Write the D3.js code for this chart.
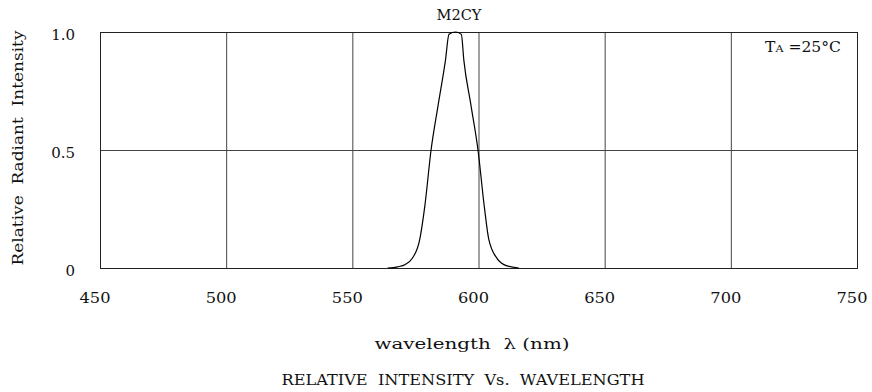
<!DOCTYPE html>
<html>
<head>
<meta charset="utf-8">
<script src="https://cdn.jsdelivr.net/npm/d3@7"></script>
<style>
  body { margin: 0; background: #fff; }
  svg { display: block; }
  text { font-family: "DejaVu Serif", serif; fill: #111; white-space: pre; }
</style>
</head>
<body>
<div id="chart"></div>
<script>
// Spectrum of M2CY
const wavelengths = [564, 568, 571, 573.7, 576.7, 578.7, 581.2, 584, 586.9, 588.3, 590.9, 593.2, 594.2, 597, 599.8, 602.3, 604.1, 607.4, 611, 616];
const intensity   = [0, 0.005, 0.015, 0.04, 0.12, 0.26, 0.50, 0.69, 0.88, 0.99, 1.0, 0.99, 0.88, 0.69, 0.50, 0.26, 0.12, 0.04, 0.01, 0];

const xTicks = [450, 500, 550, 600, 650, 700, 750];
const yTicks = [0, 0.5, 1.0];
const yTickLabels = ['0', '0.5', '1.0'];

const W = 872, H = 392;
const margin = { top: 32, right: 15, bottom: 124, left: 100 };
const width = 857 - margin.left;
const height = 268 - margin.top;

const svg = d3.select('#chart')
  .append('svg')
  .attr('width', W)
  .attr('height', H);

const g = svg.append('g')
  .attr('transform', `translate(${margin.left},${margin.top})`);

const x = d3.scaleLinear().domain([450, 750]).range([0, width]);
const y = d3.scaleLinear().domain([0, 1]).range([height, 0]);

// Grid lines
g.append('g')
  .selectAll('line')
  .data(xTicks.slice(1, -1))
  .enter()
  .append('line')
  .attr('x1', d => x(d) + 0.5)
  .attr('x2', d => x(d) + 0.5)
  .attr('y1', 0)
  .attr('y2', height)
  .attr('stroke', '#444')
  .attr('stroke-width', 1);

g.append('line')
  .attr('x1', 0)
  .attr('x2', width)
  .attr('y1', y(0.5) + 0.5)
  .attr('y2', y(0.5) + 0.5)
  .attr('stroke', '#444')
  .attr('stroke-width', 1);

// Frame
g.append('rect')
  .attr('x', 0.5)
  .attr('y', 0.5)
  .attr('width', width)
  .attr('height', height)
  .attr('fill', 'none')
  .attr('stroke', '#222')
  .attr('stroke-width', 1);

// Curve
const line = d3.line()
  .x((d, i) => x(wavelengths[i]))
  .y(d => y(d))
  .curve(d3.curveMonotoneX);

g.append('path')
  .datum(intensity)
  .attr('fill', 'none')
  .attr('stroke', '#000')
  .attr('stroke-width', 1.2)
  .attr('d', line);

// Tick labels
g.selectAll('.xlabel')
  .data(xTicks)
  .enter()
  .append('text')
  .attr('class', 'xlabel')
  .attr('x', d => x(d) - 5)
  .attr('y', height + 30)
  .attr('dy', '0.35em')
  .attr('text-anchor', 'middle')
  .attr('textLength', 31)
  .attr('lengthAdjust', 'spacingAndGlyphs')
  .style('font-size', '15px')
  .text(d => d);

g.selectAll('.ylabel')
  .data(yTicks)
  .enter()
  .append('text')
  .attr('class', 'ylabel')
  .attr('x', -25)
  .attr('y', d => y(d) + 3)
  .attr('dy', '0.35em')
  .attr('text-anchor', 'end')
  .style('font-size', '15px')
  .text((d, i) => yTickLabels[i]);

// Title
svg.append('text')
  .attr('x', 459)
  .attr('y', 15)
  .attr('dy', '0.35em')
  .attr('text-anchor', 'middle')
  .attr('textLength', 45)
  .attr('lengthAdjust', 'spacingAndGlyphs')
  .style('font-size', '14px')
  .text('M2CY');

// Temperature note
const ta = svg.append('text')
  .attr('x', 765)
  .attr('y', 47)
  .attr('dy', '0.35em')
  .attr('textLength', 76)
  .attr('lengthAdjust', 'spacingAndGlyphs')
  .style('font-size', '14px');
ta.append('tspan').text('T');
ta.append('tspan').style('font-size', '10px').text('A');
ta.append('tspan').text(' =25°C');

// Axis titles
svg.append('text')
  .attr('transform', 'translate(18,148) rotate(-90)')
  .attr('dy', '0.35em')
  .attr('text-anchor', 'middle')
  .attr('textLength', 235)
  .attr('lengthAdjust', 'spacingAndGlyphs')
  .style('font-size', '15px')
  .text('Relative  Radiant  Intensity');

svg.append('text')
  .attr('x', 472)
  .attr('y', 344)
  .attr('dy', '0.35em')
  .attr('text-anchor', 'middle')
  .attr('textLength', 195)
  .attr('lengthAdjust', 'spacingAndGlyphs')
  .style('font-size', '15px')
  .text('wavelength  λ (nm)');

svg.append('text')
  .attr('x', 463)
  .attr('y', 380)
  .attr('dy', '0.35em')
  .attr('text-anchor', 'middle')
  .attr('textLength', 363)
  .attr('lengthAdjust', 'spacingAndGlyphs')
  .style('font-size', '14px')
  .text('RELATIVE  INTENSITY  Vs.  WAVELENGTH');
</script>
</body>
</html>
